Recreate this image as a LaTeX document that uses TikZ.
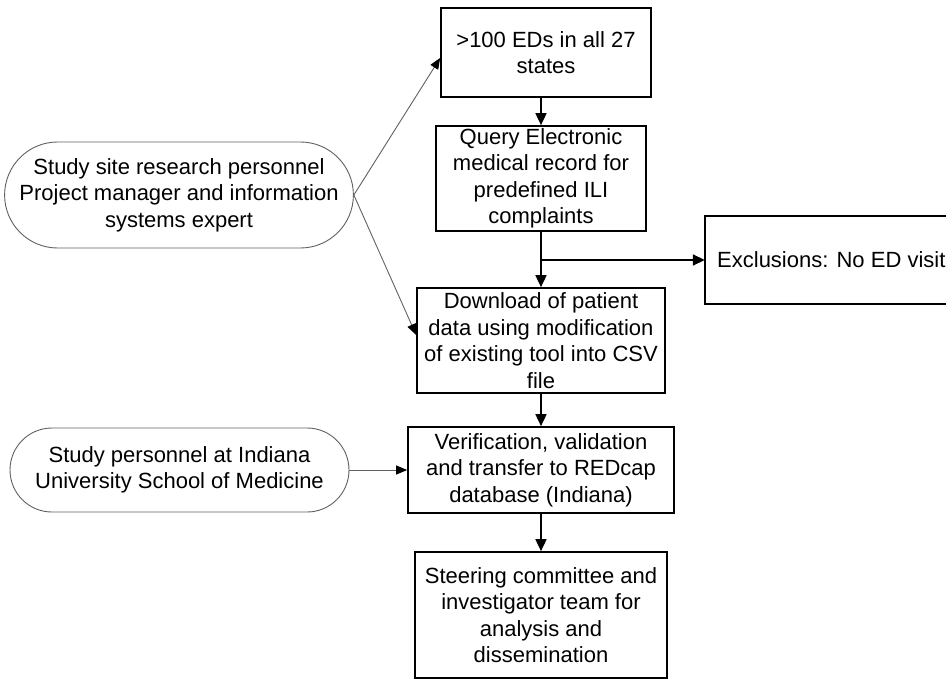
\documentclass[tikz,border=0pt]{standalone}
\usepackage{fontspec}
\setmainfont{Liberation Sans}
\usetikzlibrary{arrows.meta,shapes.misc}
\begin{document}
\begin{tikzpicture}[x=1pt,y=-1pt,
  txt/.style={font=\fontsize{22}{26.5}\selectfont},
  box/.style={txt,draw,line width=1.7pt,align=center,inner sep=0pt},
  pill/.style={txt,draw=gray!75!black,line width=0.9pt,rounded rectangle,align=center,inner sep=0pt},
  flow/.style={line width=1.7pt,-{Triangle[length=12pt,width=11pt]}},
  feed/.style={gray!75!black,line width=0.9pt,-{Triangle[length=11pt,width=9pt,color=black,fill=black]}}]
\useasboundingbox (0,0) rectangle (946,680);
% main boxes
\node[box,minimum width=210pt,minimum height=89pt] (b1) at (546,52.5) {>100 EDs in all 27\\states};
\node[box,minimum width=210pt,minimum height=105pt] (b2) at (541,178.5) {Query Electronic\\medical record for\\predefined ILI\\complaints};
\node[box,minimum width=248pt,minimum height=105pt] (b3) at (541,340.5) {Download of patient\\data using modification\\of existing tool into CSV\\file};
\node[box,minimum width=266pt,minimum height=86pt] (b4) at (541,470) {Verification, validation\\and transfer to REDcap\\database (Indiana)};
\node[box,minimum width=252pt,minimum height=126pt] (b5) at (541,615) {Steering committee and\\investigator team for\\analysis and\\dissemination};
% exclusions box (open on the right, cut by the page edge)
\node[minimum width=260pt,minimum height=88pt,inner sep=0pt] (exbox) at (835,260) {};
\draw[line width=1.7pt] (exbox.north east) -- (exbox.north west) -- (exbox.south west) -- (exbox.south east);
\node[txt,anchor=west,inner sep=0pt] (ex) at (717,260) {Exclusions: No ED visit};
% ovals
\node[pill,minimum width=338pt,minimum height=106pt] (o1) at (179,195) {Study site research personnel\\Project manager and information\\systems expert};
\node[pill,minimum width=339pt,minimum height=84pt] (o2) at (179.5,470) {Study personnel at Indiana\\University School of Medicine};
% connectors
\draw[flow] (b2.north |- b1.south) -- (b2.north);
\draw[flow] (b2.south) -- (b3.north);
\coordinate (br) at (b2.south |- exbox.west);
\draw[flow] (br) -- (exbox.west);
\draw[flow] (b3.south) -- (b4.north);
\draw[flow] (b4.south) -- (b5.north);
\draw[feed] (o1.east) -- ([yshift=-5.5pt]b1.west);
\draw[feed] (o1.east) -- ([yshift=5.5pt]b3.west);
\draw[feed] (o2.east) -- (b4.west);
\end{tikzpicture}
\end{document}
